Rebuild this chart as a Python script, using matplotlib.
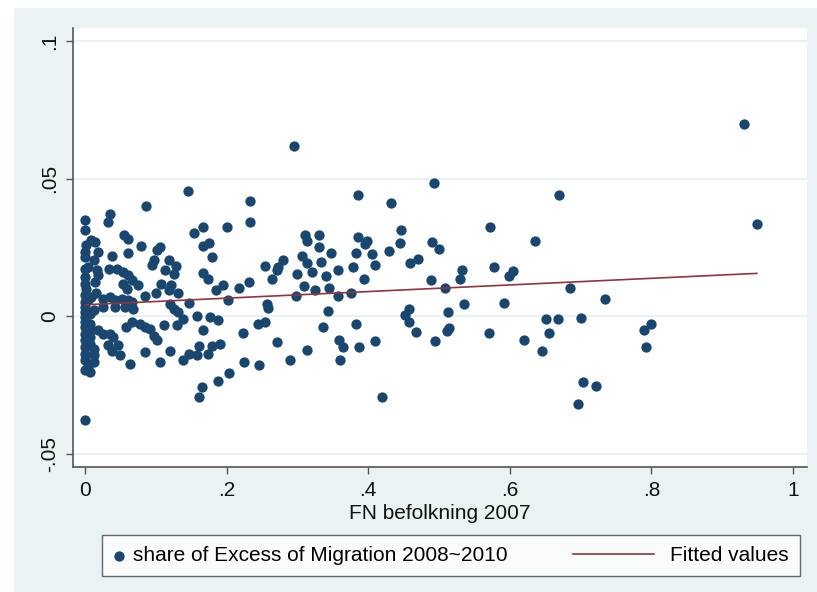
import matplotlib
matplotlib.use("Agg")
import matplotlib.pyplot as plt
from matplotlib.patches import Rectangle
from matplotlib.lines import Line2D
from matplotlib.legend_handler import HandlerLine2D

plt.rcParams['font.family'] = ['Liberation Sans', 'DejaVu Sans']

# scatter data: (FN befolkning 2007, share of excess migration)
points = [
    # right part
    (0.931, 0.0698), (0.949, 0.0334), (0.670, 0.0439), (0.635, 0.0274), (0.685, 0.0103),
    (0.734, 0.0064), (0.651, -0.0010), (0.668, -0.0011), (0.700, -0.0005), (0.655, -0.0062),
    (0.646, -0.0126), (0.789, -0.0049), (0.800, -0.0028), (0.793, -0.0112), (0.704, -0.0240),
    (0.722, -0.0252), (0.697, -0.0318),
    # 0.45 - 0.62
    (0.493, 0.0486), (0.572, 0.0324), (0.490, 0.0270), (0.500, 0.0246), (0.532, 0.0167),
    (0.530, 0.0135), (0.578, 0.0179), (0.605, 0.0166), (0.599, 0.0148), (0.488, 0.0133),
    (0.508, 0.0103), (0.536, 0.0044), (0.592, 0.0050), (0.512, 0.0016), (0.514, -0.0041),
    (0.511, -0.0053), (0.495, -0.0090), (0.570, -0.0059), (0.620, -0.0085),
    # 0.27 - 0.47
    (0.295, 0.0620), (0.386, 0.0441), (0.432, 0.0410), (0.311, 0.0295), (0.330, 0.0297),
    (0.313, 0.0273), (0.385, 0.0289), (0.398, 0.0273), (0.395, 0.0261), (0.447, 0.0313),
    (0.445, 0.0267), (0.331, 0.0252), (0.348, 0.0230), (0.383, 0.0230), (0.406, 0.0225),
    (0.430, 0.0236), (0.307, 0.0218), (0.280, 0.0204), (0.273, 0.0179), (0.313, 0.0194),
    (0.321, 0.0161), (0.333, 0.0197), (0.300, 0.0152), (0.340, 0.0147), (0.358, 0.0170),
    (0.378, 0.0179), (0.410, 0.0185), (0.394, 0.0137), (0.459, 0.0192), (0.471, 0.0210),
    (0.309, 0.0109), (0.325, 0.0097), (0.344, 0.0102), (0.298, 0.0074), (0.358, 0.0075),
    (0.375, 0.0084), (0.343, 0.0021), (0.336, -0.0039), (0.383, -0.0027), (0.452, 0.0006),
    (0.457, 0.0028), (0.458, -0.0021), (0.468, -0.0057), (0.314, -0.0121), (0.359, -0.0087),
    (0.365, -0.0113), (0.387, -0.0112), (0.410, -0.0090), (0.290, -0.0158), (0.360, -0.0160),
    (0.420, -0.0293),
    # 0.09 - 0.27
    (0.146, 0.0456), (0.233, 0.0418), (0.233, 0.0341), (0.166, 0.0323), (0.154, 0.0301),
    (0.200, 0.0325), (0.166, 0.0257), (0.175, 0.0267), (0.179, 0.0216), (0.106, 0.0252),
    (0.101, 0.0240), (0.097, 0.0204), (0.094, 0.0185), (0.118, 0.0206), (0.129, 0.0182),
    (0.113, 0.0167), (0.125, 0.0155), (0.166, 0.0158), (0.174, 0.0137), (0.254, 0.0182),
    (0.271, 0.0167), (0.264, 0.0137), (0.108, 0.0116), (0.122, 0.0113), (0.132, 0.0086),
    (0.100, 0.0085), (0.118, 0.0095), (0.185, 0.0095), (0.195, 0.0113), (0.218, 0.0104),
    (0.231, 0.0123), (0.2015, 0.0061), (0.147, 0.0050), (0.120, 0.0046), (0.125, 0.0028),
    (0.132, 0.0016), (0.2575, 0.0046), (0.259, 0.0030), (0.158, 0.0001), (0.139, -0.0008),
    (0.176, -0.0004), (0.188, -0.0015), (0.111, -0.0030), (0.130, -0.0033), (0.167, -0.0051),
    (0.245, -0.0029), (0.254, -0.0021), (0.223, -0.0060), (0.092, -0.0045), (0.097, -0.0072),
    (0.101, -0.0085), (0.271, -0.0093), (0.161, -0.0108), (0.179, -0.0108), (0.190, -0.0101),
    (0.120, -0.0124), (0.147, -0.0136), (0.158, -0.0142), (0.174, -0.0136), (0.139, -0.0158),
    (0.106, -0.0166), (0.225, -0.0164), (0.246, -0.0176), (0.2034, -0.0204), (0.188, -0.0233),
    (0.165, -0.0255), (0.161, -0.0293),
    # 0 - 0.09
    (0.000, -0.0378), (0.086, 0.0400), (0.035, 0.0373), (0.033, 0.0343), (0.000, 0.0349),
    (0.000, 0.0313), (0.009, 0.0276), (0.014, 0.0270), (0.0555, 0.0295), (0.060, 0.0280),
    (0.079, 0.0256), (0.000, 0.0234), (0.000, 0.0216), (0.019, 0.0234), (0.012, 0.0204),
    (0.038, 0.0219), (0.061, 0.0230), (0.000, 0.0173), (0.0165, 0.0167), (0.019, 0.0149),
    (0.034, 0.0173), (0.045, 0.0173), (0.054, 0.0161), (0.061, 0.0149), (0.066, 0.0131),
    (0.000, 0.0143), (0.000, 0.0119), (0.002, 0.0101), (0.014, 0.0125), (0.075, 0.0113),
    (0.053, 0.0119), (0.059, 0.0101), (0.085, 0.0074),
    (0.000, 0.0076), (0.000, 0.0052), (0.000, 0.0034), (0.000, 0.0016), (0.000, -0.0002),
    (0.000, -0.0020), (0.000, -0.0039), (0.000, -0.0063), (0.000, -0.0087), (0.000, -0.0112),
    (0.000, -0.0136), (0.000, -0.0160), (0.000, -0.0196),
    (0.007, -0.0203), (0.009, 0.0070), (0.0155, 0.0083), (0.026, 0.0064), (0.035, 0.0070),
    (0.042, 0.0058), (0.052, 0.0064), (0.061, 0.0058), (0.066, 0.0052), (0.007, 0.0010),
    (0.012, 0.0022), (0.026, 0.0034), (0.042, 0.0034), (0.0565, 0.0034), (0.068, 0.0028),
    (0.007, -0.0027), (0.009, -0.0051), (0.019, -0.0051), (0.026, -0.0063), (0.035, -0.0063),
    (0.040, -0.0075), (0.058, -0.0039), (0.066, -0.0020), (0.078, -0.0027), (0.085, -0.0039),
    (0.007, -0.0075), (0.007, -0.0099), (0.012, -0.0117), (0.012, -0.0142), (0.033, -0.0105),
    (0.038, -0.0124), (0.047, -0.0105), (0.049, -0.0142), (0.0635, -0.0172), (0.085, -0.0130),
    (0.012, -0.0166), (0.004, 0.0180), (0.004, 0.0060), (0.003, -0.0100), (0.004, -0.0180),
    (0.002, 0.0260), (0.003, -0.0050),
]
fn_pop = [p[0] for p in points]
excess_mig = [p[1] for p in points]

# fitted regression line (end points)
fit_x = [0.0, 0.949]
fit_y = [0.0042, 0.0156]

x_ticks = [0, 0.2, 0.4, 0.6, 0.8, 1]
x_labels = ['0', '.2', '.4', '.6', '.8', '1']
y_ticks = [-0.05, 0, 0.05, 0.1]
y_labels = ['-.05', '0', '.05', '.1']

bg = '#eaf2f3'
navy = '#1a476f'
maroon = '#90353b'
fs = 15


# legend line drawn to the left of a short handle box
class LongLine(HandlerLine2D):
    def create_artists(self, legend, orig_handle, xdescent, ydescent,
                       width, height, fontsize, trans):
        y = height / 2 - ydescent
        ln = Line2D([width - 4.2 * fontsize, width - 0.3 * fontsize], [y, y])
        self.update_prop(ln, orig_handle, legend)
        ln.set_transform(trans)
        return [ln]


fig = plt.figure(figsize=(8.17, 5.92), dpi=100)
fig.patches.append(Rectangle((14 / 817, 0), 1, 1 - 8 / 592, transform=fig.transFigure,
                             facecolor=bg, edgecolor='none', zorder=-10))

ax = fig.add_axes([73 / 817, 1 - 467 / 592, 734 / 817, 439 / 592])
ax.set_facecolor('white')

sc = ax.scatter(fn_pop, excess_mig, s=55, color=navy, linewidths=0, zorder=3,
                label='share of Excess of Migration 2008~2010')
fl, = ax.plot(fit_x, fit_y, color=maroon, lw=1.2, zorder=4, label='Fitted values')

ax.set_xlim(-0.017, 1.0198)
ax.set_ylim(-0.0547, 0.1047)
ax.set_xticks(x_ticks)
ax.set_xticklabels(x_labels)
ax.set_yticks(y_ticks)
ax.set_yticklabels(y_labels, rotation=90, va='center')
ax.tick_params(direction='out', length=5, width=1, color='#555555', labelsize=fs,
               labelcolor='#111111', pad=5)
for yt in y_ticks:
    ax.axhline(yt, color=bg, lw=1.5, zorder=1)

for side in ['top', 'right']:
    ax.spines[side].set_visible(False)
for side in ['left', 'bottom']:
    ax.spines[side].set_color('#555555')
    ax.spines[side].set_linewidth(1.2)

ax.set_xlabel('FN befolkning 2007', fontsize=fs, color='#111111', labelpad=3)

leg = fig.legend([sc, fl], [sc.get_label(), fl.get_label()], loc='center', ncol=2,
                 mode='expand', borderaxespad=0,
                 bbox_to_anchor=(102 / 817, 1 - 578 / 592, 698 / 817, 45 / 592),
                 fontsize=fs, frameon=True, fancybox=False, handlelength=0.5,
                 handletextpad=0.45, borderpad=0.55, scatterpoints=1,
                 handler_map={Line2D: LongLine()})
leg.get_frame().set_edgecolor('#444444')
leg.get_frame().set_linewidth(1.0)

fig.savefig('out.png', dpi=100)
